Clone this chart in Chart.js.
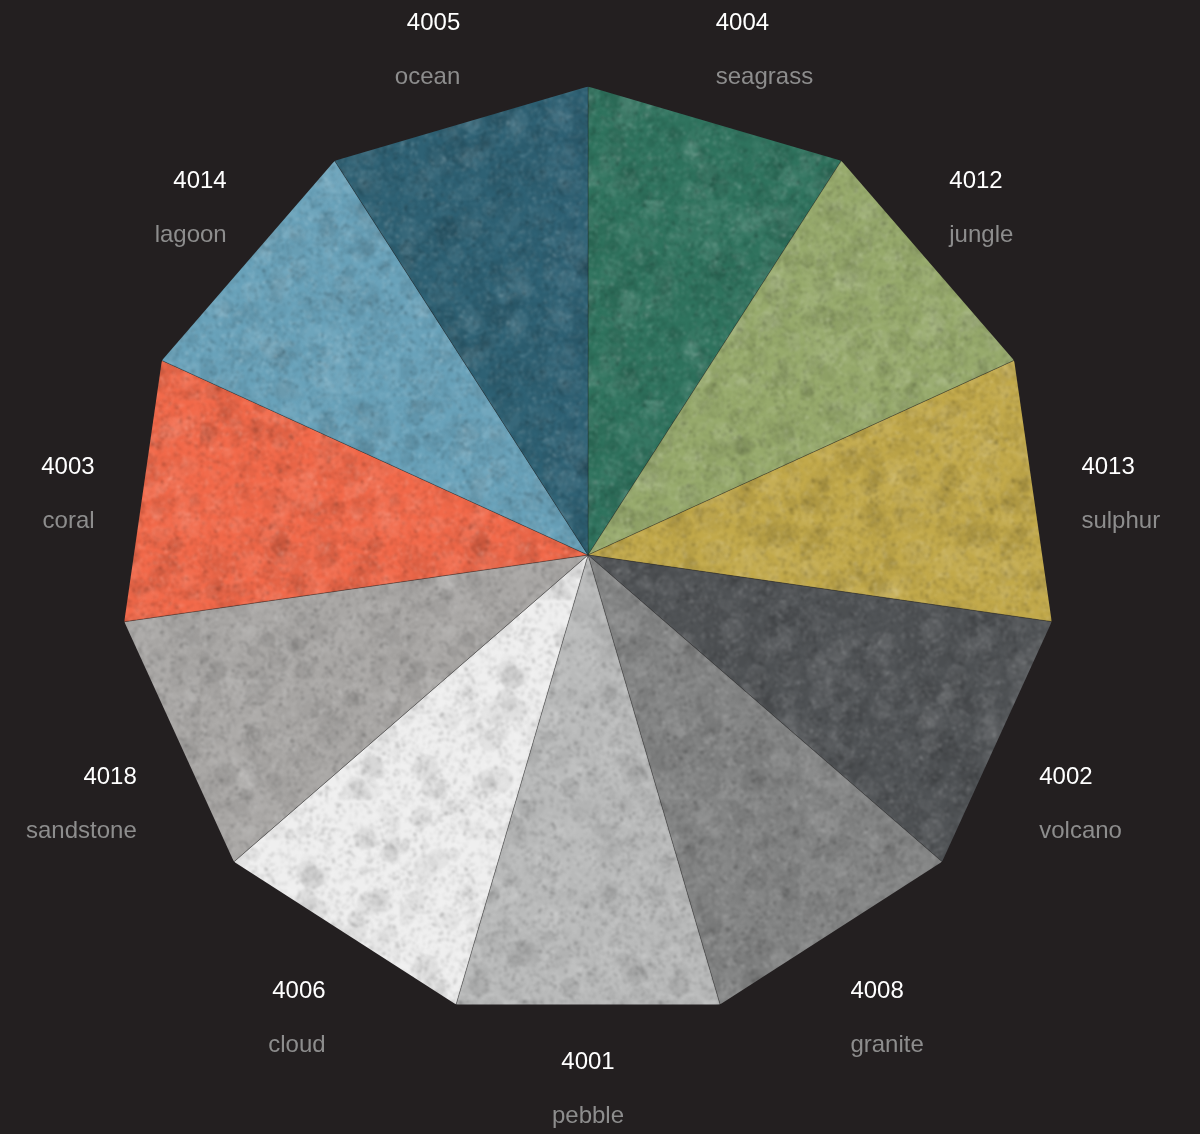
<!DOCTYPE html>
<html>
<head>
<meta charset="utf-8">
<script src="https://cdn.jsdelivr.net/npm/chart.js@4/dist/chart.umd.min.js"></script>
<style>
  html, body { margin: 0; padding: 0; background: #231f20; }
  #wrap { width: 1200px; height: 1134px; position: relative; }
</style>
</head>
<body>
<div id="wrap"><canvas id="wheel"></canvas></div>
<script>
// swatch wheel - 11 equal wedges cut to a polygon
const codes = ['4004', '4012', '4013', '4002', '4008', '4001', '4006', '4018', '4003', '4014', '4005'];
const names = ['seagrass', 'jungle', 'sulphur', 'volcano', 'granite', 'pebble', 'cloud', 'sandstone', 'coral', 'lagoon', 'ocean'];
const shares = [1, 1, 1, 1, 1, 1, 1, 1, 1, 1, 1];
const tones = ['#2f735e', '#97aa6c', '#c2a94a', '#505356', '#848585', '#b9baba', '#efefef', '#a9a7a5', '#f2694a', '#69a2ba', '#2e6174'];

// small seeded generator, only for the paper grain
function seeded(seed) {
  let t = seed >>> 0;
  return function () {
    t += 0x6d2b79f5;
    let r = Math.imul(t ^ (t >>> 15), 1 | t);
    r ^= r + Math.imul(r ^ (r >>> 7), 61 | r);
    return ((r ^ (r >>> 14)) >>> 0) / 4294967296;
  };
}

function grain(color, seed) {
  const size = 200;
  const raw = document.createElement('canvas');
  raw.width = raw.height = size;
  const g = raw.getContext('2d');
  const rnd = seeded(seed);
  // soft clouds first, then fine fibres
  for (let i = 0; i < 160; i++) {
    g.fillStyle = rnd() < 0.5 ? `rgba(0,0,0,${0.025 + rnd() * 0.04})` : `rgba(255,255,255,${0.025 + rnd() * 0.035})`;
    g.beginPath();
    g.arc(rnd() * size, rnd() * size, 4 + rnd() * 9, 0, Math.PI * 2);
    g.fill();
  }
  for (let i = 0; i < 4200; i++) {
    const dark = rnd() < 0.55;
    g.fillStyle = dark ? `rgba(0,0,0,${0.03 + rnd() * 0.08})` : `rgba(255,255,255,${0.03 + rnd() * 0.07})`;
    g.beginPath();
    g.ellipse(rnd() * size, rnd() * size, 0.8 + rnd() * 2.2, 0.6 + rnd() * 1.2, rnd() * Math.PI, 0, Math.PI * 2);
    g.fill();
  }
  const soft = document.createElement('canvas');
  soft.width = soft.height = size;
  const s = soft.getContext('2d');
  s.fillStyle = color;
  s.fillRect(0, 0, size, size);
  s.filter = 'blur(1px)';
  for (let dx = -1; dx <= 1; dx++) {
    for (let dy = -1; dy <= 1; dy++) s.drawImage(raw, dx * size, dy * size);
  }
  return s.createPattern(soft, 'repeat');
}

const polygonClip = {
  id: 'polygonClip',
  beforeDatasetsDraw(chart) {
    const arcs = chart.getDatasetMeta(0).data;
    if (!arcs.length) return;
    const ctx = chart.ctx;
    ctx.save();
    ctx.beginPath();
    arcs.forEach((a, i) => {
      const px = a.x + a.outerRadius * Math.cos(a.startAngle);
      const py = a.y + a.outerRadius * Math.sin(a.startAngle);
      i === 0 ? ctx.moveTo(px, py) : ctx.lineTo(px, py);
    });
    ctx.closePath();
    ctx.clip();
  },
  afterDatasetsDraw(chart) {
    chart.ctx.restore();
  },
};

const wedgeLabels = {
  id: 'wedgeLabels',
  afterDraw(chart) {
    const ctx = chart.ctx;
    const arcs = chart.getDatasetMeta(0).data;
    ctx.save();
    ctx.font = '24px "Liberation Sans", Arial, sans-serif';
    ctx.textBaseline = 'middle';
    arcs.forEach((a, i) => {
      const mid = (a.startAngle + a.endAngle) / 2;
      const c = Math.cos(mid);
      const s = Math.sin(mid);
      const pull = s < 0 ? 50 : 20;
      const px = a.x + (a.outerRadius + 31 - pull * s * s) * c;
      const py = a.y + 5 + (a.outerRadius + 61) * s + c * c * (15 + 35 * s);
      ctx.textAlign = Math.abs(c) < 0.05 ? 'center' : c > 0 ? 'left' : 'right';
      ctx.fillStyle = '#ffffff';
      ctx.fillText(codes[i], px, py - 27);
      ctx.fillStyle = '#8d8d8d';
      ctx.fillText(names[i], px, py + 27);
    });
    ctx.restore();
  },
};

const ctx = document.getElementById('wheel').getContext('2d');
new Chart(ctx, {
  type: 'pie',
  data: {
    labels: names,
    datasets: [
      {
        data: shares,
        backgroundColor: tones.map((t, i) => grain(t, 17 + i * 31)),
        borderColor: 'rgba(30,30,30,0.3)',
        borderWidth: 1,
      },
    ],
  },
  options: {
    responsive: true,
    maintainAspectRatio: false,
    animation: false,
    layout: { padding: { left: 119, right: 143, top: 86, bottom: 110 } },
    plugins: { legend: { display: false }, tooltip: { enabled: false } },
  },
  plugins: [polygonClip, wedgeLabels],
});
</script>
</body>
</html>
